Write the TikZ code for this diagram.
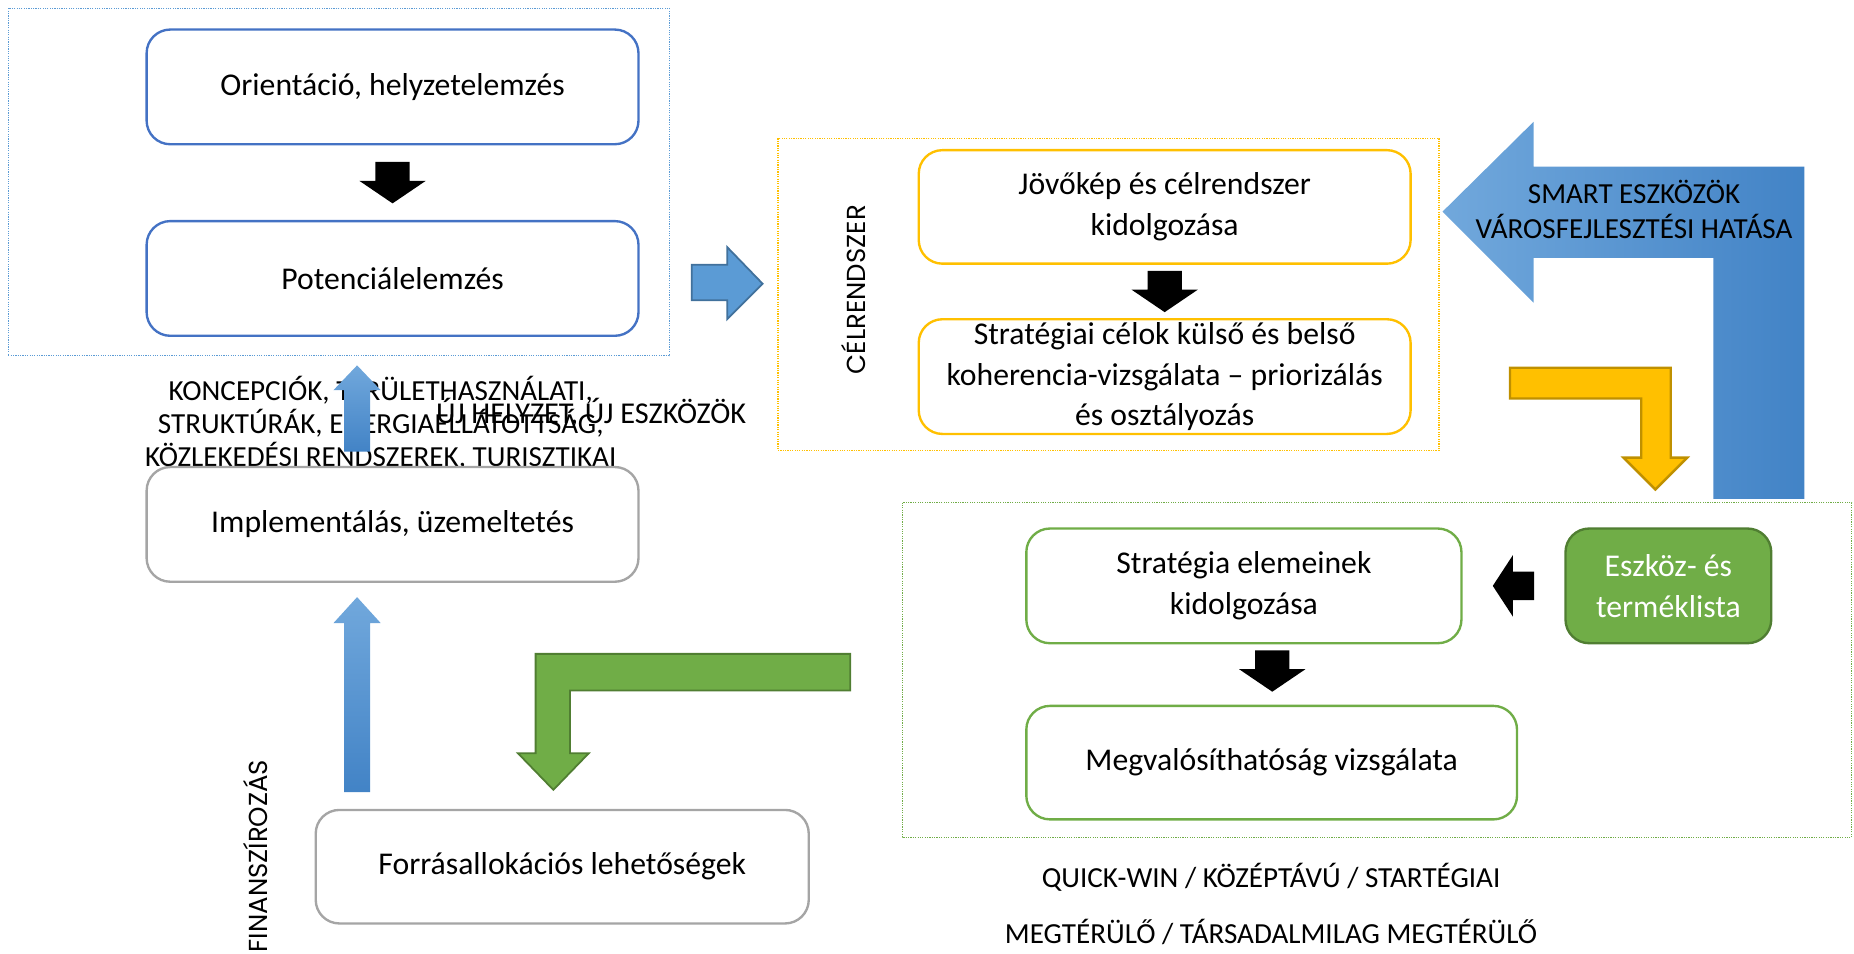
\documentclass[tikz,border=0pt]{standalone}
\usepackage{fontspec}
\usetikzlibrary{calc}
\setmainfont{Carlito}
\newfontfamily\geofont{Poppins}
\definecolor{bluebox}{HTML}{4472C4}
\definecolor{bluedot}{HTML}{5B9BD5}
\definecolor{orangebox}{HTML}{FFC000}
\definecolor{orangedark}{HTML}{BF9000}
\definecolor{greenbox}{HTML}{70AD47}
\definecolor{greendark}{HTML}{507E32}
\definecolor{graybox}{HTML}{A5A5A5}
\definecolor{blueA}{HTML}{5B9BD5}
\definecolor{blueAd}{HTML}{41719C}
\definecolor{bluelight}{HTML}{71A8DC}
\definecolor{bluedeep}{HTML}{4283C6}
\begin{document}
\begin{tikzpicture}[x=0.5pt,y=-0.5pt,
  box/.style={draw, rounded corners=10pt, line width=1pt, fill=white, align=center,
    font=\fontsize{13.4}{17.3}\selectfont, inner sep=0pt},
  bluerbox/.style={box, draw=bluebox},
  orangerbox/.style={box, draw=orangebox},
  greenrbox/.style={box, draw=greenbox},
  grayrbox/.style={box, draw=graybox},
  container/.style={line width=0.5pt, dash pattern=on 0.5pt off 0.5pt},
  caps/.style={font=\fontsize{12.3}{14}\selectfont, align=center, inner sep=0pt},
  rotlabel/.style={font=\geofont\fontsize{11}{13}\selectfont, rotate=90, inner sep=0pt},
  darrow/.pic={\fill (-14.5,-17.5) -- (14.5,-17.5) -- (14.5,-1.5) -- (28,-1.5) -- (0,17.5) -- (-28,-1.5) -- (-14.5,-1.5) -- cycle;},
  larrow/.pic={\fill (-17.5,0) -- (-0.5,-26) -- (-0.5,-12) -- (17.5,-12) -- (17.5,12) -- (-0.5,12) -- (-0.5,26) -- cycle;}
]
\useasboundingbox (0,0) rectangle (1568,806);

% containers
\draw[container, draw=bluedot] (7,7) rectangle (566,301);
\draw[container, draw=orangebox] (658,117) rectangle (1217,381);
\draw[container, draw=greenbox] (763,425) rectangle (1566,708);

% left column
\node[bluerbox, minimum width=208pt, minimum height=48.5pt] (orient) at (332,73.5) {Orientáció, helyzetelemzés};
\node[bluerbox, minimum width=208pt, minimum height=48.5pt] (pot) at (332,235.5) {Potenciálelemzés};
\pic at ($(orient.south)!0.5!(pot.north)$) {darrow};

% overlapping caption texts
\node[caps] (koncep) at (322,358) {KONCEPCIÓK, TERÜLETHASZNÁLATI,\\STRUKTÚRÁK, ENERGIAELLÁTOTTSÁG,\\KÖZLEKEDÉSI RENDSZEREK, TURISZTIKAI};
\node[grayrbox, minimum width=208pt, minimum height=48.5pt] (impl) at (332,443.5) {Implementálás, üzemeltetés};
\node[caps, font=\fontsize{12.8}{14}\selectfont] (ujhely) at (500,349) {ÚJ HELYZET, ÚJ ESZKÖZÖK};

% blue up arrows
\shade[top color=bluelight, bottom color=bluedeep] (302,309) -- (322,330) -- (313,330) -- (313,382) -- (291,382) -- (291,330) -- (282,330) -- cycle;
\shade[top color=bluelight, bottom color=bluedeep] (302,505) -- (322,527) -- (313,527) -- (313,670) -- (291,670) -- (291,527) -- (282,527) -- cycle;

\node[grayrbox, minimum width=208.5pt, minimum height=48pt] (forras) at (475.5,733) {Forrásallokációs lehetőségek};
\node[rotlabel] (finansz) at (216,724) {FINANSZÍROZÁS};

% right arrow to célrendszer
\draw[fill=blueA, draw=blueAd, line width=0.75pt] (585,224) -- (615,224) -- (615,209) -- (645,240) -- (615,270) -- (615,254) -- (585,254) -- cycle;

% célrendszer block
\node[rotlabel] (celr) at (722,245) {CÉLRENDSZER};
\node[orangerbox, minimum width=208pt, minimum height=48pt] (jovo) at (985,175) {Jövőkép és célrendszer\\kidolgozása};
\node[orangerbox, minimum width=208pt, minimum height=48.5pt] (strat) at (985,318.5) {Stratégiai célok külső és belső\\koherencia-vizsgálata – priorizálás\\és osztályozás};
\pic at ($(jovo.south)!0.5!(strat.north)$) {darrow};

% SMART arrow
\shade[left color=bluelight, right color=bluedeep] (1220,179) -- (1297,103) -- (1297,141) -- (1526,141) -- (1526,422) -- (1449,422) -- (1449,218) -- (1297,218) -- (1297,256) -- cycle;
\node[caps, font=\fontsize{12.3}{15}\selectfont] (smart) at (1382,177) {SMART ESZKÖZÖK\\VÁROSFEJLESZTÉSI HATÁSA};

% yellow L arrow
\draw[fill=orangebox, draw=orangedark, line width=1pt] (1277,311) -- (1413,311) -- (1413,387) -- (1427,387) -- (1400,414) -- (1373,387) -- (1388,387) -- (1388,337) -- (1277,337) -- cycle;

% strategy block
\node[greenrbox, minimum width=184pt, minimum height=48.5pt] (elem) at (1052,495.5) {Stratégia elemeinek\\kidolgozása};
\node[greenrbox, minimum width=207.5pt, minimum height=48pt] (megval) at (1075.5,645) {Megvalósíthatóság vizsgálata};
\node[box, fill=greenbox, draw=greendark, text=white, minimum width=87pt, minimum height=48.5pt] (eszkoz) at (1411,495.5) {Eszköz- és\\terméklista};
\pic at (1076,567.5) {darrow};
\pic at ($(elem.east)!0.5!(eszkoz.west)$) {larrow};

% green L arrow
\draw[fill=greenbox, draw=greendark, line width=0.75pt] (453,553) -- (719,553) -- (719,584) -- (482,584) -- (482,637) -- (498,637) -- (468,668) -- (438,637) -- (453,637) -- cycle;

% bottom captions
\node[caps] (quick) at (1075,742) {QUICK-WIN / KÖZÉPTÁVÚ / STARTÉGIAI};
\node[caps] (megter) at (1075,788) {MEGTÉRÜLŐ / TÁRSADALMILAG MEGTÉRÜLŐ};
\end{tikzpicture}
\end{document}
